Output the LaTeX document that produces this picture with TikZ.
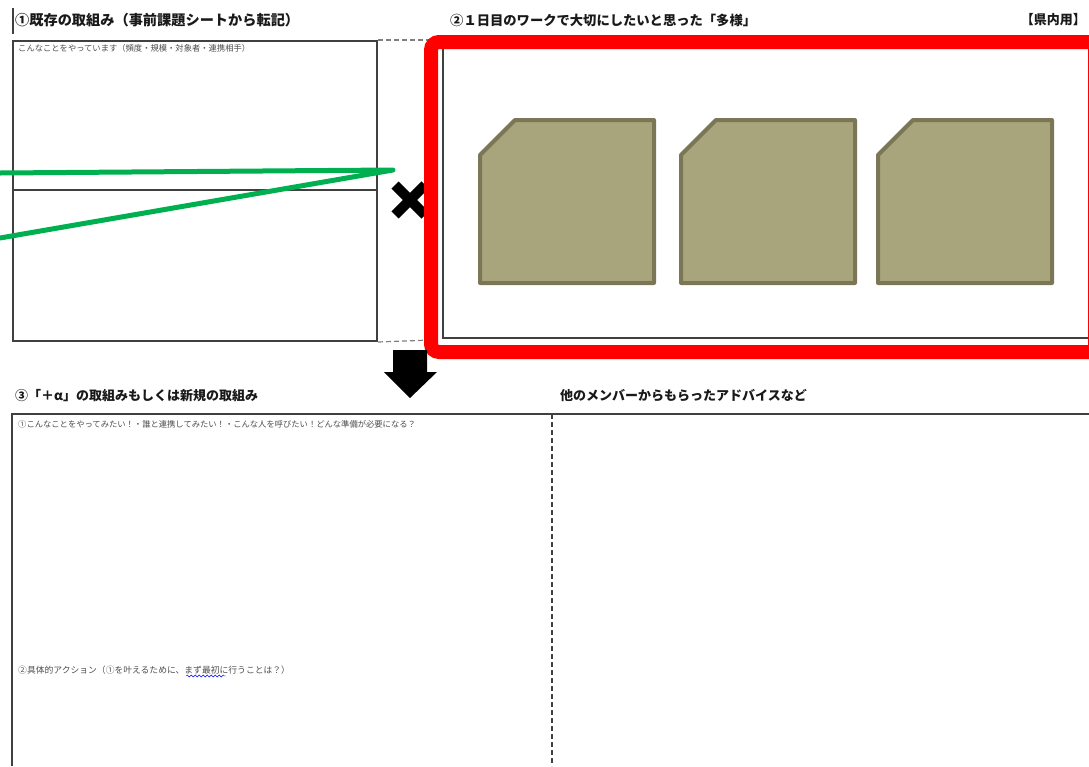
\documentclass[tikz,border=0pt]{standalone}
\usepackage{fontspec}
\setmainfont{Noto Sans CJK JP}
\usepackage{xcolor}
\usepackage{tikz}
\usetikzlibrary{positioning}
\usetikzlibrary{decorations.pathmorphing}

\definecolor{boxgray}{HTML}{404040}
\definecolor{sheetgreen}{HTML}{00B050}
\definecolor{cardfill}{HTML}{A8A47C}
\definecolor{carddraw}{HTML}{7A7656}

\begin{document}
\begin{tikzpicture}[x=1pt,y=-1pt,>=latex,
		heading/.style={right, inner sep=0pt, text=black!90, font=\fontsize{13}{13}\selectfont\bfseries},
		hint/.style={right, inner sep=0pt, text=black!70, font=\fontsize{8.3}{8.3}\selectfont},
		frame/.style={draw=boxgray, line width=2pt},
		card/.style={fill=cardfill, draw=carddraw, line width=4pt, line join=round}]
		\useasboundingbox (0,0) rectangle (1089,766);
		\clip (0,0) rectangle (1089,766);

		%Part 1
		\draw[boxgray, line width=1.5pt] (13,8) -- (13,34);
		\node[heading, font=\fontsize{14.2}{14.2}\selectfont\bfseries] at (15,20) (title1) {①既存の取組み（事前課題シートから転記）};
		\node at (12,40) (existing) [frame, anchor=north west, inner sep=0pt, minimum width=364pt, minimum height=300pt] {};
		\draw[frame] (existing.west |- 0,190) -- (existing.east |- 0,190);
		\node[hint] at (18,48) (hint1) {こんなことをやっています（頻度・規模・対象者・連携相手）};
		\draw[gray, line width=1.2pt, dash pattern=on 5pt off 3pt] (existing.north east) -- (431,40);
		\draw[gray, line width=1.2pt, dash pattern=on 5pt off 3pt] (existing.south east) -- (431,340);

		% pointer
		\coordinate (g1) at (0,173);
		\coordinate (g2) at (0,238);
		\coordinate (gtip) at (393,170);
		\draw[sheetgreen, line width=5pt, line cap=round, line join=round] (g1) -- (gtip) -- (g2);

		% times sign
		\draw[line width=10pt] (395,185) -- (425,215) (395,215) -- (425,185);

		%Part 2
		\node[heading, font=\fontsize{13.3}{13.3}\selectfont\bfseries] at (450,20) (title2) {②１日目のワークで大切にしたいと思った「多様」};
		\node[heading, left] at (1086,20) (region) {【県内用】};
		\draw[frame] (443,49) -- (443,338) -- (1089,338);
		\foreach \x in {480,681,878}{
			\draw[card] (\x,155) -- ({\x+35},120) -- ({\x+174},120) -- ({\x+174},283) -- (\x,283) -- cycle;
		}
		\draw[red, line width=14pt, rounded corners=8pt] (431,42) rectangle (1120,352);
		\draw[red, line width=1pt] (1088,42) -- (1088,352);

		% down arrow
		\fill (393,350) -- (427,350) -- (427,372) -- (437,372) -- (410,398) -- (384,372) -- (393,372) -- cycle;

		%Part 3
		\node[heading] at (15,396) (title3) {③「＋α」の取組みもしくは新規の取組み};
		\node[heading] at (560,396) (title4) {他のメンバーからもらったアドバイスなど};
		\draw[frame] (12,766) -- (12,414) -- (1089,414);
		\draw[boxgray, line width=1.5pt, dash pattern=on 5pt off 3pt] (552,414) -- (552,766);
		\node[hint] at (18,424) (hint2) {①こんなことをやってみたい！・誰と連携してみたい！・こんな人を呼びたい！どんな準備が必要になる？};
		\node[hint, font=\fontsize{8.8}{8.8}\selectfont] at (18,670) (hint3) {②具体的アクション（①を叶えるために、まず最初に行うことは？）};
		\draw[blue, decorate, decoration={snake, amplitude=1pt, segment length=4pt}] (186,676) -- (226,676);
	\end{tikzpicture}
\end{document}
